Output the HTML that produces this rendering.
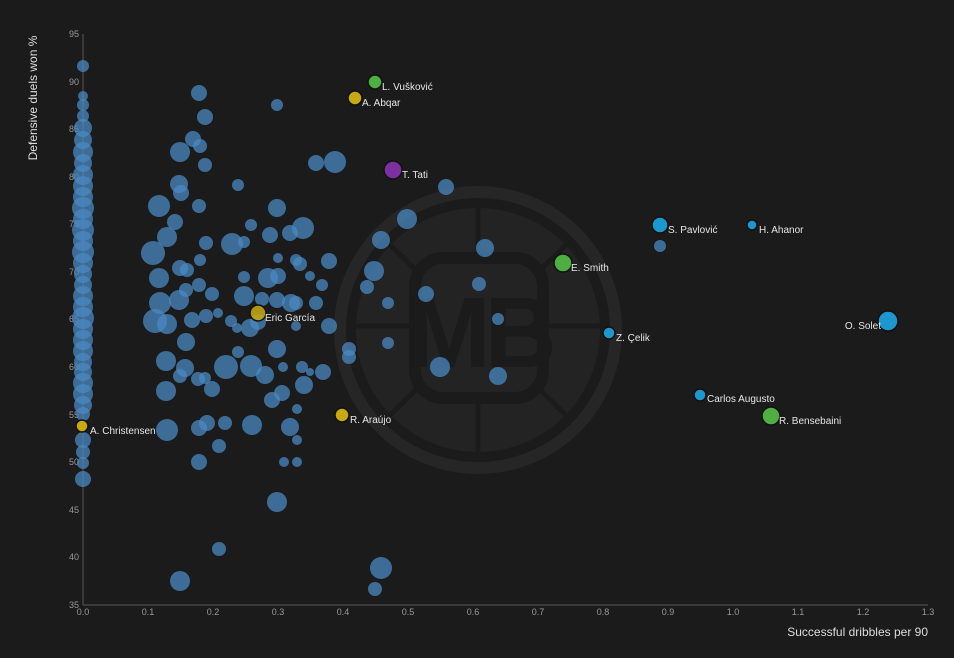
<!DOCTYPE html>
<html><head><meta charset="utf-8"><style>
html,body{margin:0;padding:0;background:#1b1b1b;}
svg{display:block;font-family:"Liberation Sans",sans-serif;}
</style></head><body>
<svg width="954" height="658" viewBox="0 0 954 658">
<rect width="954" height="658" fill="#1b1b1b"/>
<!-- watermark -->
<g fill="none" stroke="#262626">
<circle cx="478" cy="330" r="138" stroke-width="12"/>
<circle cx="478" cy="330" r="122" fill="#232323" stroke="none"/>
<g stroke="#1b1b1b" stroke-width="5">
<line x1="478" y1="208" x2="478" y2="452"/>
<line x1="356" y1="326" x2="600" y2="326"/>
<line x1="390" y1="245" x2="566" y2="415"/>
<line x1="566" y1="245" x2="390" y2="415"/>
</g>
<rect x="415" y="258" width="128" height="140" rx="28" fill="#232323" stroke="#1b1b1b" stroke-width="12"/>
</g>
<text x="479" y="367" font-size="100" font-weight="bold" fill="#1b1b1b" text-anchor="middle" font-family="Liberation Sans, sans-serif" letter-spacing="-6">MB</text>
<!-- axes -->
<line x1="83" y1="34" x2="83" y2="605" stroke="#444" stroke-width="1.5"/>
<line x1="83" y1="605" x2="928" y2="605" stroke="#444" stroke-width="1.5"/>
<g font-size="9" fill="#999" text-anchor="end">
<text x="79" y="37">95</text><text x="79" y="85">90</text><text x="79" y="132">85</text><text x="79" y="180">80</text><text x="79" y="227">75</text><text x="79" y="275">70</text><text x="79" y="322">65</text><text x="79" y="370">60</text><text x="79" y="418">55</text><text x="79" y="465">50</text><text x="79" y="513">45</text><text x="79" y="560">40</text><text x="79" y="608">35</text>
</g>
<g font-size="9" fill="#999" text-anchor="middle">
<text x="83" y="615">0.0</text><text x="148" y="615">0.1</text><text x="213" y="615">0.2</text><text x="278" y="615">0.3</text><text x="343" y="615">0.4</text><text x="408" y="615">0.5</text><text x="473" y="615">0.6</text><text x="538" y="615">0.7</text><text x="603" y="615">0.8</text><text x="668" y="615">0.9</text><text x="733" y="615">1.0</text><text x="798" y="615">1.1</text><text x="863" y="615">1.2</text><text x="928" y="615">1.3</text>
</g>
<text x="928" y="636" font-size="12" fill="#ddd" text-anchor="end">Successful dribbles per 90</text>
<text transform="translate(37,98) rotate(-90)" font-size="12" fill="#ddd" text-anchor="middle">Defensive duels won %</text>
<!-- column at x=0 -->
<g fill="#4a8ac2" fill-opacity="0.75">
<circle cx="83" cy="66" r="6"/><circle cx="83" cy="96" r="5"/><circle cx="83" cy="105" r="6"/><circle cx="83" cy="116" r="6"/><circle cx="83" cy="128" r="9"/><circle cx="83" cy="140" r="9"/><circle cx="83" cy="152" r="10"/><circle cx="83" cy="163" r="9"/><circle cx="83" cy="175" r="10"/><circle cx="83" cy="186" r="10"/><circle cx="83" cy="197" r="10"/><circle cx="83" cy="208" r="11"/><circle cx="83" cy="219" r="10"/><circle cx="83" cy="230" r="11"/><circle cx="83" cy="241" r="10"/><circle cx="83" cy="252" r="11"/><circle cx="83" cy="263" r="10"/><circle cx="83" cy="274" r="9"/><circle cx="83" cy="285" r="9"/><circle cx="83" cy="296" r="10"/><circle cx="83" cy="307" r="10"/><circle cx="83" cy="318" r="11"/><circle cx="83" cy="329" r="10"/><circle cx="83" cy="340" r="10"/><circle cx="83" cy="351" r="10"/><circle cx="83" cy="362" r="9"/><circle cx="83" cy="372" r="9"/><circle cx="83" cy="383" r="10"/><circle cx="83" cy="394" r="10"/><circle cx="83" cy="405" r="9"/><circle cx="83" cy="414" r="7"/><circle cx="83" cy="440" r="8"/><circle cx="83" cy="452" r="7"/><circle cx="83" cy="463" r="6"/><circle cx="83" cy="479" r="8"/>
</g>
<!-- scattered -->
<g fill="#4a8ac2" fill-opacity="0.75">
<circle cx="199" cy="93" r="8"/><circle cx="205" cy="117" r="8"/><circle cx="277" cy="105" r="6"/><circle cx="193" cy="139" r="8"/><circle cx="200" cy="146" r="7"/><circle cx="180" cy="152" r="10"/><circle cx="205" cy="165" r="7"/><circle cx="179" cy="184" r="9"/><circle cx="181" cy="193" r="8"/><circle cx="238" cy="185" r="6"/><circle cx="159" cy="206" r="11"/><circle cx="199" cy="206" r="7"/><circle cx="175" cy="222" r="8"/><circle cx="167" cy="237" r="10"/><circle cx="153" cy="253" r="12"/><circle cx="206" cy="243" r="7"/><circle cx="232" cy="244" r="11"/><circle cx="244" cy="242" r="6"/><circle cx="251" cy="225" r="6"/><circle cx="277" cy="208" r="9"/><circle cx="270" cy="235" r="8"/><circle cx="303" cy="228" r="11"/><circle cx="290" cy="233" r="8"/><circle cx="296" cy="260" r="6"/><circle cx="278" cy="258" r="5"/><circle cx="300" cy="264" r="7"/><circle cx="316" cy="163" r="8"/><circle cx="335" cy="162" r="11"/><circle cx="446" cy="187" r="8"/><circle cx="407" cy="219" r="10"/><circle cx="381" cy="240" r="9"/><circle cx="485" cy="248" r="9"/><circle cx="159" cy="278" r="10"/><circle cx="180" cy="268" r="8"/><circle cx="187" cy="270" r="7"/><circle cx="200" cy="260" r="6"/><circle cx="199" cy="285" r="7"/><circle cx="212" cy="294" r="7"/><circle cx="179" cy="300" r="10"/><circle cx="160" cy="303" r="11"/><circle cx="186" cy="290" r="7"/><circle cx="155" cy="321" r="12"/><circle cx="167" cy="324" r="10"/><circle cx="192" cy="320" r="8"/><circle cx="206" cy="316" r="7"/><circle cx="218" cy="313" r="5"/><circle cx="231" cy="321" r="6"/><circle cx="244" cy="296" r="10"/><circle cx="244" cy="277" r="6"/><circle cx="268" cy="278" r="10"/><circle cx="278" cy="276" r="8"/><circle cx="277" cy="300" r="8"/><circle cx="262" cy="299" r="7"/><circle cx="250" cy="328" r="9"/><circle cx="237" cy="328" r="5"/><circle cx="291" cy="303" r="9"/><circle cx="296" cy="303" r="7"/><circle cx="316" cy="303" r="7"/><circle cx="322" cy="285" r="6"/><circle cx="310" cy="276" r="5"/><circle cx="329" cy="261" r="8"/><circle cx="374" cy="271" r="10"/><circle cx="367" cy="287" r="7"/><circle cx="388" cy="303" r="6"/><circle cx="426" cy="294" r="8"/><circle cx="479" cy="284" r="7"/><circle cx="498" cy="319" r="6"/><circle cx="296" cy="326" r="5"/><circle cx="329" cy="326" r="8"/><circle cx="349" cy="349" r="7"/><circle cx="349" cy="357" r="7"/><circle cx="388" cy="343" r="6"/><circle cx="166" cy="361" r="10"/><circle cx="186" cy="342" r="9"/><circle cx="185" cy="368" r="9"/><circle cx="226" cy="367" r="12"/><circle cx="251" cy="366" r="11"/><circle cx="265" cy="375" r="9"/><circle cx="238" cy="352" r="6"/><circle cx="277" cy="349" r="9"/><circle cx="283" cy="367" r="5"/><circle cx="302" cy="367" r="6"/><circle cx="310" cy="372" r="4"/><circle cx="323" cy="372" r="8"/><circle cx="272" cy="400" r="8"/><circle cx="282" cy="393" r="8"/><circle cx="304" cy="385" r="9"/><circle cx="166" cy="391" r="10"/><circle cx="180" cy="376" r="7"/><circle cx="198" cy="379" r="7"/><circle cx="205" cy="378" r="6"/><circle cx="212" cy="389" r="8"/><circle cx="297" cy="409" r="5"/><circle cx="167" cy="430" r="11"/><circle cx="207" cy="423" r="8"/><circle cx="199" cy="428" r="8"/><circle cx="225" cy="423" r="7"/><circle cx="252" cy="425" r="10"/><circle cx="290" cy="427" r="9"/><circle cx="297" cy="440" r="5"/><circle cx="219" cy="446" r="7"/><circle cx="199" cy="462" r="8"/><circle cx="284" cy="462" r="5"/><circle cx="297" cy="462" r="5"/><circle cx="277" cy="502" r="10"/><circle cx="219" cy="549" r="7"/><circle cx="180" cy="581" r="10"/><circle cx="381" cy="568" r="11"/><circle cx="375" cy="589" r="7"/><circle cx="440" cy="367" r="10"/><circle cx="498" cy="376" r="9"/><circle cx="660" cy="246" r="6"/><circle cx="258" cy="322" r="8"/>
</g>
<!-- highlighted -->
<g stroke="#111" stroke-width="1.5">
<circle cx="375" cy="82" r="7" fill="#4caf3f"/>
<circle cx="355" cy="98" r="7" fill="#c8aa10"/>
<circle cx="393" cy="170" r="9" fill="#7b2fa0"/>
<circle cx="660" cy="225" r="8" fill="#1d98cf"/>
<circle cx="752" cy="225" r="5" fill="#1d98cf"/>
<circle cx="563" cy="263" r="9" fill="#4caf3f"/>
<circle cx="609" cy="333" r="6" fill="#1d98cf"/>
<circle cx="888" cy="321" r="10" fill="#1d98cf"/>
<circle cx="700" cy="395" r="6" fill="#1d98cf"/>
<circle cx="771" cy="416" r="9" fill="#4caf3f"/>
<circle cx="342" cy="415" r="7" fill="#c8aa10"/>
<circle cx="82" cy="426" r="6" fill="#c8aa10"/>
<circle cx="258" cy="313" r="8" fill="#c8aa10" fill-opacity="0.85"/>
</g>
<g font-size="10" fill="#e6e6e6">
<text x="382" y="90">L. Vušković</text>
<text x="362" y="106">A. Abqar</text>
<text x="402" y="178">T. Tati</text>
<text x="668" y="233">S. Pavlović</text>
<text x="759" y="233">H. Ahanor</text>
<text x="571" y="271">E. Smith</text>
<text x="616" y="341">Z. Çelik</text>
<text x="881" y="329" text-anchor="end">O. Solet</text>
<text x="707" y="402">Carlos Augusto</text>
<text x="779" y="424">R. Bensebaini</text>
<text x="350" y="423">R. Araújo</text>
<text x="90" y="434">A. Christensen</text>
<text x="265" y="321">Eric García</text>
</g>
</svg>
</body></html>
